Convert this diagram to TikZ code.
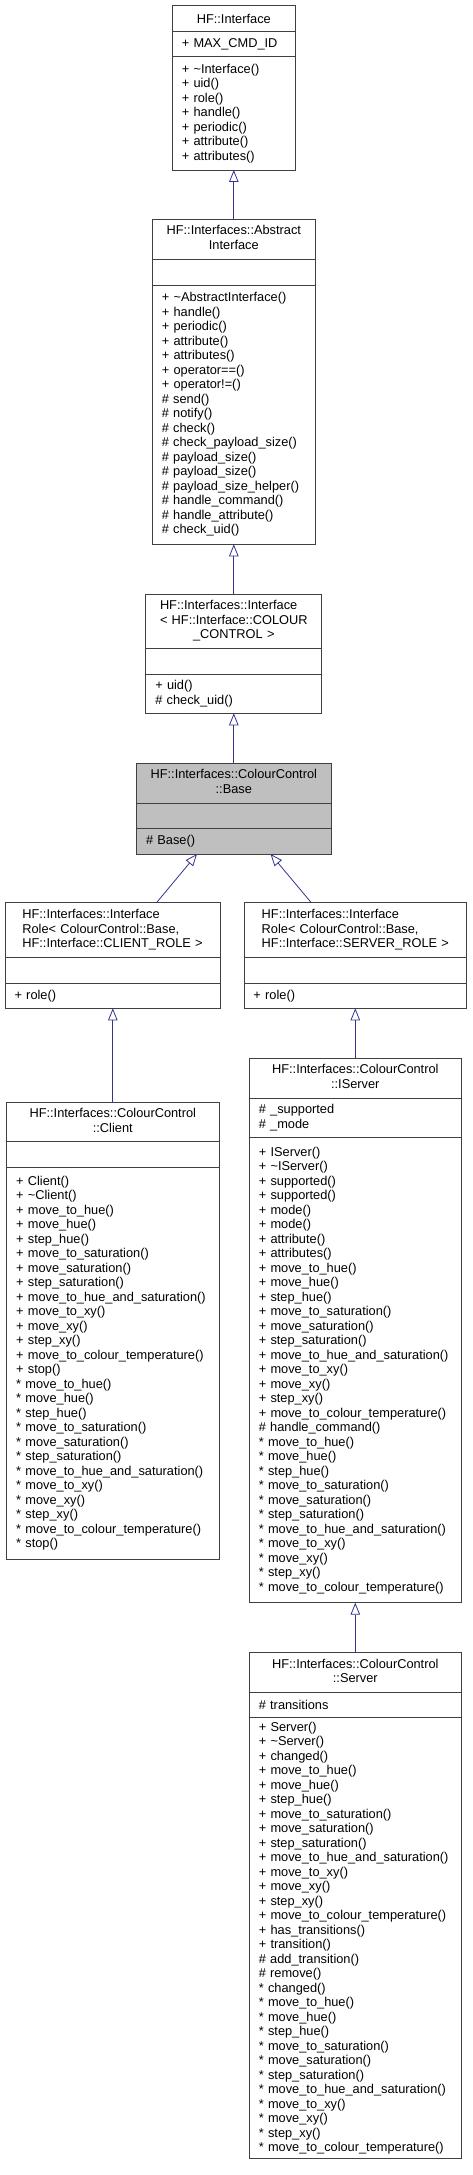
\documentclass[tikz,border=0pt]{standalone}
\usepackage{fontspec}
\setmainfont{Liberation Sans}
\usepackage{tikz}
\usetikzlibrary{%
    positioning,%
    arrows.meta%
}
\definecolor{edgeblue}{RGB}{52,52,140}
\newcommand{\classfont}{\fontsize{12.8}{14.5}\selectfont}
\newcommand{\stacktitle}[2]{\begin{tabular}{@{}l@{}}#1\\\multicolumn{1}{@{}c@{}}{#2}\end{tabular}}

\begin{document}
\begin{tikzpicture}[
  x=1pt,y=-1pt,
  cls/.style={draw=black!75,line width=0.8pt,outer sep=0pt,
    inner xsep=9.5pt,inner ysep=0pt,text width=#1,font=\classfont},
  title/.style={align=center},
  members/.style={align=left},
  current/.style={fill=black!25},
  inherit/.style={draw=edgeblue,line width=0.8pt,
    -{Triangle[open,length=12pt,width=9.5pt]}},
  ]
  % Background
  \fill[white] (0,0) rectangle (472,2175);
  % HF::Interface
  \node[cls=104,title,anchor=north,minimum height=26pt] (iface) at (233.8,5.7)
    {HF::Interface};
  \node[cls=104,members,minimum height=25pt,below=0pt of iface] (ifaceattr)
    {+ MAX\_CMD\_ID};
  \node[cls=104,members,minimum height=113.3pt,below=0pt of ifaceattr] (ifacemeth)
    {+ \textasciitilde Interface()\\+ uid()\\+ role()\\+ handle()\\+ periodic()\\
     + attribute()\\+ attributes()};
  % AbstractInterface
  \node[cls=144,title,anchor=north,minimum height=39.7pt] (abs) at (233.8,219.3)
    {\stacktitle{HF::Interfaces::Abstract}{Interface}};
  \node[cls=144,members,minimum height=26pt,below=0pt of abs] (absattr) {};
  \node[cls=144,members,minimum height=259.3pt,below=0pt of absattr] (absmeth)
    {+ \textasciitilde AbstractInterface()\\+ handle()\\+ periodic()\\+ attribute()\\
     + attributes()\\+ operator==()\\+ operator!=()\\\# send()\\\# notify()\\
     \# check()\\\# check\_payload\_size()\\\# payload\_size()\\\# payload\_size()\\
     \# payload\_size\_helper()\\\# handle\_command()\\\# handle\_attribute()\\
     \# check\_uid()};
  % Interface< COLOUR_CONTROL >
  \node[cls=157,title,anchor=north,minimum height=54.3pt] (ifcc) at (233.8,594)
    {\stacktitle{HF::Interfaces::Interface\\< HF::Interface::COLOUR}{\_CONTROL >}};
  \node[cls=157,members,minimum height=26pt,below=0pt of ifcc] (ifccattr) {};
  \node[cls=157,members,minimum height=39pt,below=0pt of ifccattr] (ifccmeth)
    {+ uid()\\\# check\_uid()};
  % ColourControl::Base
  \node[cls=175.6,title,current,anchor=north,minimum height=40.3pt] (base) at (233.8,763)
    {\stacktitle{HF::Interfaces::ColourControl}{::Base}};
  \node[cls=175.6,members,current,minimum height=25.4pt,below=0pt of base] (baseattr) {};
  \node[cls=175.6,members,current,minimum height=25.3pt,below=0pt of baseattr] (basemeth)
    {\# Base()};
  % InterfaceRole (client)
  \node[cls=196,title,anchor=north,minimum height=55pt] (crole) at (112.5,902.7)
    {\stacktitle{HF::Interfaces::Interface\\Role< ColourControl::Base,}
      {HF::Interface::CLIENT\_ROLE >}};
  \node[cls=196,members,minimum height=25.6pt,below=0pt of crole] (croleattr) {};
  \node[cls=196,members,minimum height=25pt,below=0pt of croleattr] (crolemeth)
    {+ role()};
  % InterfaceRole (server)
  \node[cls=203.7,title,anchor=north,minimum height=55pt] (srole) at (355.3,902.7)
    {\stacktitle{HF::Interfaces::Interface\\Role< ColourControl::Base,}
      {HF::Interface::SERVER\_ROLE >}};
  \node[cls=203.7,members,minimum height=25.6pt,below=0pt of srole] (sroleattr) {};
  \node[cls=203.7,members,minimum height=25pt,below=0pt of sroleattr] (srolemeth)
    {+ role()};
  % ColourControl::Client
  \node[cls=193.3,title,anchor=north,minimum height=39.7pt] (client) at (112.8,1102)
    {\stacktitle{HF::Interfaces::ColourControl}{::Client}};
  \node[cls=193.3,members,minimum height=25.3pt,below=0pt of client] (clientattr) {};
  \node[cls=193.3,members,minimum height=392.3pt,below=0pt of clientattr] (clientmeth)
    {+ Client()\\+ \textasciitilde Client()\\+ move\_to\_hue()\\+ move\_hue()\\
     + step\_hue()\\+ move\_to\_saturation()\\+ move\_saturation()\\
     + step\_saturation()\\+ move\_to\_hue\_and\_saturation()\\+ move\_to\_xy()\\
     + move\_xy()\\+ step\_xy()\\+ move\_to\_colour\_temperature()\\+ stop()\\
     {*} move\_to\_hue()\\{*} move\_hue()\\{*} step\_hue()\\{*} move\_to\_saturation()\\
     {*} move\_saturation()\\{*} step\_saturation()\\{*} move\_to\_hue\_and\_saturation()\\
     {*} move\_to\_xy()\\{*} move\_xy()\\{*} step\_xy()\\{*} move\_to\_colour\_temperature()\\
     {*} stop()};
  % ColourControl::IServer
  \node[cls=193,title,anchor=north,minimum height=39.7pt] (iserver) at (355.3,1058.3)
    {\stacktitle{HF::Interfaces::ColourControl}{::IServer}};
  \node[cls=193,members,minimum height=39.7pt,below=0pt of iserver] (iserverattr)
    {\# \_supported\\\# \_mode};
  \node[cls=193,members,minimum height=465pt,below=0pt of iserverattr] (iservermeth)
    {+ IServer()\\+ \textasciitilde IServer()\\+ supported()\\+ supported()\\
     + mode()\\+ mode()\\+ attribute()\\+ attributes()\\+ move\_to\_hue()\\
     + move\_hue()\\+ step\_hue()\\+ move\_to\_saturation()\\+ move\_saturation()\\
     + step\_saturation()\\+ move\_to\_hue\_and\_saturation()\\+ move\_to\_xy()\\
     + move\_xy()\\+ step\_xy()\\+ move\_to\_colour\_temperature()\\
     \# handle\_command()\\{*} move\_to\_hue()\\{*} move\_hue()\\{*} step\_hue()\\
     {*} move\_to\_saturation()\\{*} move\_saturation()\\{*} step\_saturation()\\
     {*} move\_to\_hue\_and\_saturation()\\{*} move\_to\_xy()\\{*} move\_xy()\\
     {*} step\_xy()\\{*} move\_to\_colour\_temperature()};
  % ColourControl::Server
  \node[cls=193,title,anchor=north,minimum height=40pt] (server) at (355.3,1652.7)
    {\stacktitle{HF::Interfaces::ColourControl}{::Server}};
  \node[cls=193,members,minimum height=25pt,below=0pt of server] (serverattr)
    {\# transitions};
  \node[cls=193,members,minimum height=440.6pt,below=0pt of serverattr] (servermeth)
    {+ Server()\\+ \textasciitilde Server()\\+ changed()\\+ move\_to\_hue()\\
     + move\_hue()\\+ step\_hue()\\+ move\_to\_saturation()\\+ move\_saturation()\\
     + step\_saturation()\\+ move\_to\_hue\_and\_saturation()\\+ move\_to\_xy()\\
     + move\_xy()\\+ step\_xy()\\+ move\_to\_colour\_temperature()\\
     + has\_transitions()\\+ transition()\\\# add\_transition()\\\# remove()\\
     {*} changed()\\{*} move\_to\_hue()\\{*} move\_hue()\\{*} step\_hue()\\
     {*} move\_to\_saturation()\\{*} move\_saturation()\\{*} step\_saturation()\\
     {*} move\_to\_hue\_and\_saturation()\\{*} move\_to\_xy()\\{*} move\_xy()\\
     {*} step\_xy()\\{*} move\_to\_colour\_temperature()};
  % Inheritance
  \draw[inherit] (abs.north) -- (abs.north |- ifacemeth.south);
  \draw[inherit] (ifcc.north) -- (ifcc.north |- absmeth.south);
  \draw[inherit] (base.north) -- (base.north |- ifccmeth.south);
  \draw[inherit] (crole.32) -- (basemeth.199);
  \draw[inherit] (srole.148) -- (basemeth.341);
  \draw[inherit] (client.north) -- (client.north |- crolemeth.south);
  \draw[inherit] (iserver.north) -- (iserver.north |- srolemeth.south);
  \draw[inherit] (server.north) -- (server.north |- iservermeth.south);
\end{tikzpicture}
\end{document}
